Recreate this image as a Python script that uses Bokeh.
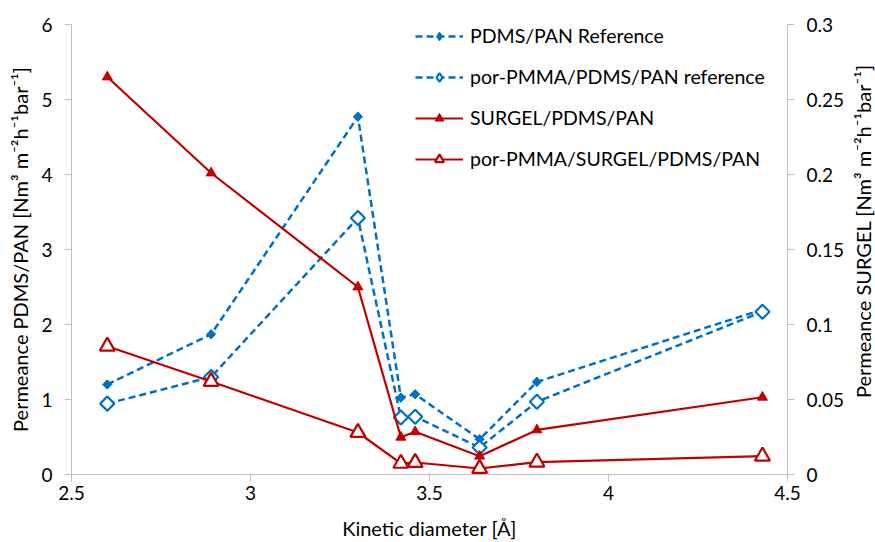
import math
from bokeh.plotting import figure
from bokeh.layouts import row
from bokeh.models import Range1d, LinearAxis, FixedTicker, Legend, LegendItem
from bokeh.core.properties import value
from bokeh.embed import file_html
from bokeh.resources import INLINE

diam = [2.6, 2.89, 3.3, 3.42, 3.46, 3.64, 3.8, 4.43]
pdms_ref = [1.20, 1.87, 4.77, 1.025, 1.07, 0.47, 1.235, 2.20]
pmma_pdms_ref = [0.945, 1.30, 3.42, 0.76, 0.77, 0.36, 0.97, 2.17]
surgel = [0.265, 0.201, 0.125, 0.0248, 0.0285, 0.0122, 0.0297, 0.0515]
pmma_surgel = [0.0855, 0.0620, 0.0280, 0.0074, 0.0080, 0.0040, 0.0082, 0.0122]

x_ticks = [2.5, 3, 3.5, 4, 4.5]
x_labels = ["2.5", "3", "3.5", "4", "4.5"]
left_ticks = [0, 1, 2, 3, 4, 5, 6]
right_ticks = [0, 0.05, 0.1, 0.15, 0.2, 0.25, 0.3]
right_labels = ["0", "0.05", "0.1", "0.15", "0.2", "0.25", "0.3"]
RIGHT_TITLE = "Permeance SURGEL [Nm³ m⁻²h⁻¹bar⁻¹]"

FONT = "Lato"
TICK_FS = "19px"
TITLE_FS = "20px"
LEG_FS = "19.5px"
AX = "#BFBFBF"
BLUE = "#0070C0"
RED = "#C00000"

p = figure(width=849, height=542, output_backend="svg", toolbar_location=None,
           x_range=Range1d(2.5, 4.5), y_range=Range1d(0, 6),
           min_border_left=71, min_border_right=62, min_border_top=24, min_border_bottom=68)
p.extra_y_ranges = {"right": Range1d(0, 0.3)}
p.grid.visible = False
p.outline_line_color = None
p.background_fill_color = "white"
p.border_fill_color = "white"

def style(ax):
    ax.axis_line_color = AX
    ax.major_tick_line_color = AX
    ax.minor_tick_line_color = None
    ax.major_tick_out = 7
    ax.major_tick_in = 0
    ax.major_label_text_font = FONT
    ax.major_label_text_font_size = TICK_FS
    ax.major_label_text_color = "black"
    ax.axis_label_text_font = FONT
    ax.axis_label_text_font_size = TITLE_FS
    ax.axis_label_text_font_style = "normal"
    ax.axis_label_text_color = "black"

xa = p.xaxis[0]
xa.ticker = FixedTicker(ticks=x_ticks)
xa.major_label_overrides = {t: l for t, l in zip(x_ticks, x_labels)}
xa.axis_label = "Kinetic diameter [Å]"
xa.major_label_standoff = 4
xa.axis_label_standoff = 13
style(xa)

ya = p.yaxis[0]
ya.ticker = FixedTicker(ticks=left_ticks)
ya.axis_label = "Permeance PDMS/PAN [Nm³ m⁻²h⁻¹bar⁻¹]"
ya.major_label_standoff = 12
ya.axis_label_standoff = 6
style(ya)

ra = LinearAxis(y_range_name="right", ticker=FixedTicker(ticks=right_ticks))
ra.major_label_overrides = {t: l for t, l in zip(right_ticks, right_labels)}
ra.major_label_standoff = 12
style(ra)
p.add_layout(ra, "right")

l1 = p.line(diam, pdms_ref, line_color=BLUE, line_width=2.5, line_dash="7 4")
# diamond glyphs used for the legend; hidden underneath the rotated squares
k1 = p.scatter(diam, pdms_ref, marker="diamond", size=9, fill_color=BLUE, line_color=BLUE)
m1 = p.scatter(diam, pdms_ref, marker="square", angle=math.pi / 4, size=6.5,
               fill_color=BLUE, line_color=BLUE)
l2 = p.line(diam, pmma_pdms_ref, line_color=BLUE, line_width=2.5, line_dash="7 4")
k2 = p.scatter(diam, pmma_pdms_ref, marker="diamond", size=14, fill_color="white",
               line_color=BLUE, line_width=2.2)
m2 = p.scatter(diam, pmma_pdms_ref, marker="square", angle=math.pi / 4, size=10,
               fill_color="white", line_color=BLUE, line_width=2.2)
l3 = p.line(diam, surgel, line_color=RED, line_width=2.2, y_range_name="right")
m3 = p.scatter(diam, surgel, marker="triangle", size=10, fill_color=RED,
               line_color=RED, y_range_name="right")
l4 = p.line(diam, pmma_surgel, line_color=RED, line_width=2.2, y_range_name="right")
m4 = p.scatter(diam, pmma_surgel, marker="triangle", size=15, fill_color="white",
               line_color=RED, line_width=2.2, y_range_name="right")

legend = Legend(items=[
    LegendItem(label="PDMS/PAN Reference", renderers=[l1, k1]),
    LegendItem(label="por-PMMA/PDMS/PAN reference", renderers=[l2, k2]),
    LegendItem(label="SURGEL/PDMS/PAN", renderers=[l3, m3]),
    LegendItem(label="por-PMMA/SURGEL/PDMS/PAN", renderers=[l4, m4]),
], location=(344, 304))
legend.glyph_width = 48
legend.glyph_height = 22
legend.label_height = 22
legend.spacing = 18
legend.padding = 0
legend.margin = 0
legend.label_standoff = 7
legend.border_line_color = None
legend.background_fill_alpha = 0
legend.label_text_font = FONT
legend.label_text_font_size = LEG_FS
legend.label_text_color = "black"
p.add_layout(legend, "center")

# narrow side panel holding the right axis title (reads bottom to top)
side = figure(width=26, height=542, output_backend="svg", toolbar_location=None,
              x_range=Range1d(0, 1), y_range=Range1d(0, 542),
              x_axis_location=None, y_axis_location=None,
              min_border_left=0, min_border_right=0, min_border_top=0, min_border_bottom=0)
side.grid.visible = False
side.outline_line_color = None
side.background_fill_color = "white"
side.border_fill_color = "white"
side.text(x=[0.5], y=[542 - 249], text=[RIGHT_TITLE], angle=math.pi / 2,
          text_align="center", text_baseline="middle", text_font=value(FONT),
          text_font_size=TITLE_FS, text_color="black")

layout = row(p, side, spacing=0)
open("out.html", "w").write(file_html(layout, INLINE))
